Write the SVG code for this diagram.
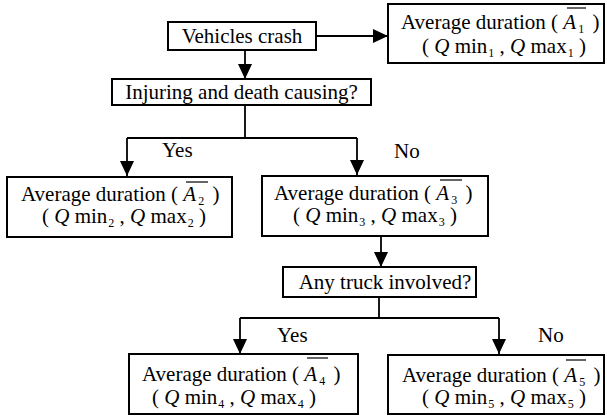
<svg xmlns="http://www.w3.org/2000/svg" width="607" height="417" viewBox="0 0 607 417" font-family="'Liberation Serif','Times New Roman',serif">
<style>
text{font-family:"Liberation Serif","Times New Roman",serif;font-size:21px;fill:#000}
.box{fill:#fff;stroke:#000;stroke-width:2}
.c{fill:none;stroke:#000;stroke-width:1.8}
.ov{stroke:#000;stroke-width:1.2}
.i{font-style:italic}
.s{font-size:12px}
</style>
<defs>
<marker id="ah" markerUnits="userSpaceOnUse" markerWidth="16" markerHeight="14" refX="15" refY="7" orient="auto">
<path d="M0,0 L15,7 L0,14 Z" fill="#000"/>
</marker>
</defs>
<rect width="607" height="417" fill="#fff"/>
<g id="connectors">
<line class="c" x1="316" y1="36" x2="388" y2="36" marker-end="url(#ah)"/>
<line class="c" x1="245" y1="50" x2="245" y2="79" marker-end="url(#ah)"/>
<polyline class="c" points="245,105 245,138"/>
<polyline class="c" points="127,138 357,138"/>
<line class="c" x1="127" y1="138" x2="127" y2="176" marker-end="url(#ah)"/>
<line class="c" x1="357" y1="138" x2="357" y2="175" marker-end="url(#ah)"/>
<line class="c" x1="381" y1="236" x2="381" y2="267" marker-end="url(#ah)"/>
<polyline class="c" points="379,297 379,318"/>
<polyline class="c" points="240,318 499,318"/>
<line class="c" x1="240" y1="318" x2="240" y2="354" marker-end="url(#ah)"/>
<line class="c" x1="499" y1="318" x2="499" y2="354" marker-end="url(#ah)"/>
<text x="162" y="157">Yes</text>
<text x="394" y="158">No</text>
<text x="277" y="342">Yes</text>
<text x="538" y="342">No</text>
</g>
<g id="crash">
<rect class="box" x="168" y="22" width="148" height="28"/>
<text x="242" y="43" text-anchor="middle">Vehicles crash</text>
</g>
<g id="injuring">
<rect class="box" x="112" y="79" width="259" height="26"/>
<text x="241.5" y="99" text-anchor="middle">Injuring and death causing?</text>
</g>
<g id="truck">
<rect class="box" x="283" y="267" width="193" height="30"/>
<text x="385" y="289" text-anchor="middle">Any truck involved?</text>
</g>
<g id="a1">
<rect class="box" x="388" y="4" width="216" height="59"/>
<text x="401" y="29">Average duration ( <tspan class="i">A</tspan><tspan class="s" dx="2" dy="4">1</tspan><tspan dx="3" dy="-4"> )</tspan></text>
<text x="422" y="53">( <tspan class="i">Q</tspan> min<tspan class="s" dx="1" dy="4">1</tspan><tspan dy="-4"> , </tspan><tspan class="i">Q</tspan> max<tspan class="s" dx="1" dy="4">1</tspan><tspan dy="-4"> )</tspan></text>
<line class="ov" x1="567" y1="8" x2="586" y2="8"/>
</g>
<g id="a2">
<rect class="box" x="7" y="177" width="225" height="60"/>
<text x="21" y="201">Average duration ( <tspan class="i">A</tspan><tspan class="s" dx="2" dy="4">2</tspan><tspan dx="3" dy="-4"> )</tspan></text>
<text x="42" y="223">( <tspan class="i">Q</tspan> min<tspan class="s" dx="1" dy="4">2</tspan><tspan dy="-4"> , </tspan><tspan class="i">Q</tspan> max<tspan class="s" dx="1" dy="4">2</tspan><tspan dy="-4"> )</tspan></text>
<line class="ov" x1="186" y1="182" x2="208" y2="182"/>
</g>
<g id="a3">
<rect class="box" x="262" y="176" width="226" height="60"/>
<text x="274" y="200">Average duration ( <tspan class="i">A</tspan><tspan class="s" dx="2" dy="4">3</tspan><tspan dx="3" dy="-4"> )</tspan></text>
<text x="293" y="222">( <tspan class="i">Q</tspan> min<tspan class="s" dx="1" dy="4">3</tspan><tspan dy="-4"> , </tspan><tspan class="i">Q</tspan> max<tspan class="s" dx="1" dy="4">3</tspan><tspan dy="-4"> )</tspan></text>
<line class="ov" x1="440" y1="180" x2="462" y2="180"/>
</g>
<g id="a4">
<rect class="box" x="129" y="354" width="229" height="60"/>
<text x="142" y="381">Average duration ( <tspan class="i">A</tspan><tspan class="s" dx="2" dy="4">4</tspan><tspan dx="3" dy="-4"> )</tspan></text>
<text x="152" y="404">( <tspan class="i">Q</tspan> min<tspan class="s" dx="1" dy="4">4</tspan><tspan dy="-4"> , </tspan><tspan class="i">Q</tspan> max<tspan class="s" dx="1" dy="4">4</tspan><tspan dy="-4"> )</tspan></text>
<line class="ov" x1="307" y1="358" x2="328" y2="358"/>
</g>
<g id="a5">
<rect class="box" x="388" y="355" width="216" height="59"/>
<text x="402" y="382">Average duration ( <tspan class="i">A</tspan><tspan class="s" dx="2" dy="4">5</tspan><tspan dx="3" dy="-4"> )</tspan></text>
<text x="422" y="404">( <tspan class="i">Q</tspan> min<tspan class="s" dx="1" dy="4">5</tspan><tspan dy="-4"> , </tspan><tspan class="i">Q</tspan> max<tspan class="s" dx="1" dy="4">5</tspan><tspan dy="-4"> )</tspan></text>
<line class="ov" x1="566" y1="360" x2="586" y2="360"/>
</g>
</svg>
